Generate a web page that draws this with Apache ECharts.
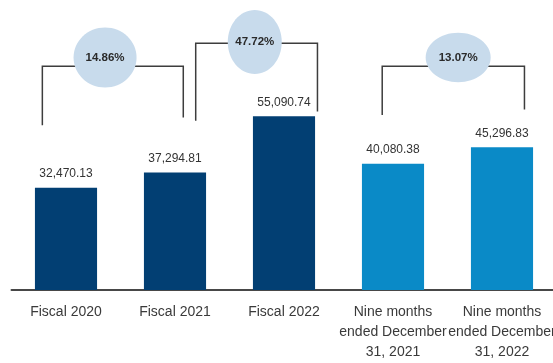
<!DOCTYPE html>
<html>
<head>
<meta charset="utf-8">
<style>
  html, body { margin: 0; padding: 0; background: #ffffff; }
  #chart { width: 553px; height: 363px; }
</style>
<script src="https://cdn.jsdelivr.net/npm/echarts@6/dist/echarts.min.js"></script>
</head>
<body>
<div id="chart"></div>
<script>
// Revenue by period
const categories = [
  'Fiscal 2020',
  'Fiscal 2021',
  'Fiscal 2022',
  'Nine months\nended December\n31, 2021',
  'Nine months\nended December\n31, 2022'
];
const revenue = [32470.13, 37294.81, 55090.74, 40080.38, 45296.83];

// Growth brackets: from-category, to-category, growth label
const growthFrom = [0, 1, 3];
const growthTo = [1, 2, 4];
const growthLabels = ['14.86%', '47.72%', '13.07%'];
// Bracket levels in value units: top bar, left leg end, right leg end
const bracketTop = [71000, 78300, 71000];
const bracketLeftEnd = [52300, 53700, 55500];
const bracketRightEnd = [54700, 56600, 57300];

const FONT = '"Liberation Sans", Arial, sans-serif';

// Bracket/bubble geometry (fractions of category band, pixels for bubbles)
const bracketStyle = [
  { left: -0.217, right: 0.076, bubbleX: 0.445, bubbleDy: -8.7, rx: 31.5, ry: 30 },
  { left: 0.19, right: 0.307, bubbleX: 0.485, bubbleDy: -1.3, rx: 27, ry: 32 },
  { left: -0.099, right: 0.206, bubbleX: 0.534, bubbleDy: -8.7, rx: 32.5, ry: 24.7 }
];

const barColors = ['#023f73', '#023f73', '#023f73', '#0a8ac7', '#0a8ac7'];

const bracketData = growthLabels.map((lab, i) => [
  growthFrom[i], growthTo[i], bracketTop[i], bracketLeftEnd[i], bracketRightEnd[i], lab
]);

const chart = echarts.init(document.getElementById('chart'));

chart.setOption({
  animation: false,
  grid: { left: 11.5, width: 545, top: 0, bottom: 73, outerBoundsMode: 'none', containLabel: false },
  xAxis: {
    type: 'category',
    data: categories,
    axisLine: { show: true, lineStyle: { color: '#474747', width: 2 } },
    axisTick: { show: false },
    axisLabel: {
      color: '#3a3a3a',
      fontFamily: FONT,
      fontSize: 14,
      lineHeight: 20,
      margin: 12,
      interval: 0,
      hideOverlap: false
    }
  },
  yAxis: {
    type: 'value',
    min: 0,
    max: 92000,
    show: false,
    splitLine: { show: false }
  },
  series: [
    {
      type: 'bar',
      data: revenue.map((v, i) => ({ value: v, itemStyle: { color: barColors[i] } })),
      barWidth: '57%',
      label: {
        show: true,
        position: 'top',
        distance: 8,
        color: '#333333',
        fontFamily: FONT,
        fontSize: 12,
        formatter: p => p.value.toLocaleString('en-US', { minimumFractionDigits: 2, maximumFractionDigits: 2 })
      }
    },
    {
      type: 'custom',
      silent: true,
      z: 5,
      data: bracketData,
      encode: { x: 0, y: 2 },
      renderItem: function (params, api) {
        const s = bracketStyle[params.dataIndex];
        const band = api.size([1, 0])[0];
        const from = api.value(0), to = api.value(1);
        const top = api.coord([from, api.value(2)])[1];
        const yl = api.coord([from, api.value(3)])[1];
        const yr = api.coord([to, api.value(4)])[1];
        const xl = api.coord([from, 0])[0] + s.left * band;
        const xr = api.coord([to, 0])[0] + s.right * band;
        const cx = xl + (xr - xl) * s.bubbleX;
        const cy = top + s.bubbleDy;
        return {
          type: 'group',
          children: [
            {
              type: 'polyline',
              shape: { points: [[xl, yl], [xl, top], [xr, top], [xr, yr]] },
              style: { stroke: '#3d3d3d', lineWidth: 1.5, fill: null }
            },
            {
              type: 'ellipse',
              shape: { cx: cx, cy: cy, rx: s.rx, ry: s.ry },
              style: { fill: '#c8dbec', stroke: null }
            },
            {
              type: 'text',
              style: {
                x: cx, y: cy,
                text: api.value(5),
                align: 'center',
                verticalAlign: 'middle',
                fill: '#2a2a2a',
                font: 'bold 11.5px ' + FONT
              }
            }
          ]
        };
      }
    }
  ]
});
</script>
</body>
</html>
